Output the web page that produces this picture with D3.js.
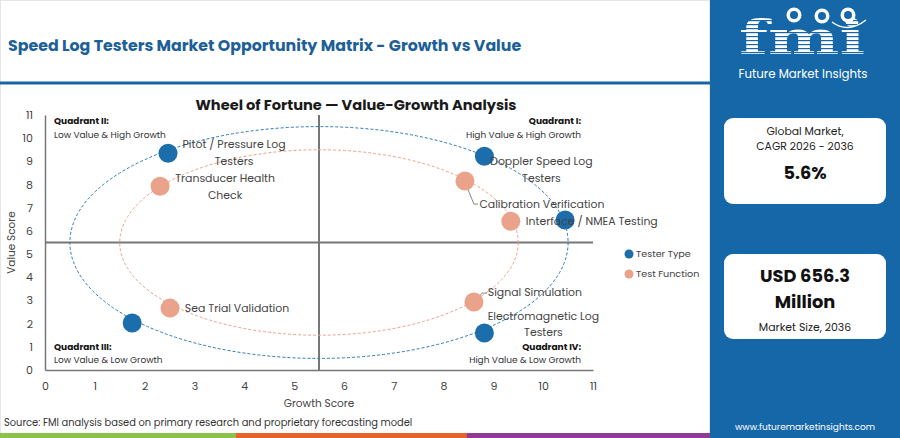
<!DOCTYPE html>
<html>
<head>
<meta charset="utf-8">
<script src="https://cdn.jsdelivr.net/npm/d3@7/dist/d3.min.js"></script>
<style>
  html, body { margin: 0; padding: 0; background: #fff; }
  svg { display: block; font-family: Poppins, "Open Sans", "Noto Sans", sans-serif; }
</style>
</head>
<body>
<svg id="chart" width="900" height="438"></svg>
<script>
// ---------- data ----------
const seriesNames = ["Tester Type", "Test Function"];
const testerNames = ["Pitot / Pressure Log Testers", "Doppler Speed Log Testers", "", "Electromagnetic Log Testers", ""];
const testerGrowth = [2.47, 8.82, 10.44, 8.82, 1.75];
const testerValue  = [9.35, 9.22, 6.47, 1.60, 2.03];
const functionNames = ["Transducer Health Check", "Calibration Verification", "Interface / NMEA Testing", "Signal Simulation", "Sea Trial Validation"];
const functionGrowth = [2.31, 8.43, 9.35, 8.61, 2.51];
const functionValue  = [7.93, 8.15, 6.42, 2.93, 2.67];
const xTicks = [0,1,2,3,4,5,6,7,8,9,10,11];
const yTicks = [0,1,2,3,4,5,6,7,8,9,10,11];
const midpoint = 5.5;
const ringRadius = [5, 4];       // in score units
const cagrLabel = "5.6%";
const marketSizeLabel = ["USD 656.3", "Million"];

// ---------- layout (label offsets in px, line splits) ----------
const labelLayout = {
  "Pitot / Pressure Log Testers": {dx: 66, dy: -8, lines: ["Pitot / Pressure Log", "Testers"]},
  "Transducer Health Check": {dx: 65, dy: -7, lines: ["Transducer Health", "Check"]},
  "Doppler Speed Log Testers": {dx: 57, dy: 6, lines: ["Doppler Speed Log", "Testers"]},
  "Calibration Verification": {dx: 77, dy: 24, lines: ["Calibration Verification"], leader: [[2,6],[9,23],[13,23]]},
  "Interface / NMEA Testing": {dx: 81, dy: 1, lines: ["Interface / NMEA Testing"]},
  "Signal Simulation": {dx: 61, dy: -9, lines: ["Signal Simulation"], leader: [[5,-5],[8,-9],[13,-9]]},
  "Electromagnetic Log Testers": {dx: 59, dy: -16, lines: ["Electromagnetic Log", "Testers"]},
  "Sea Trial Validation": {dx: 67, dy: 1, lines: ["Sea Trial Validation"]}
};
const colors = {"Tester Type": "#1b6dab", "Test Function": "#eba28b"};
const ringColors = ["#2b7bb9", "#eba28b"];

const svg = d3.select("#chart");

// background & header
svg.append("rect").attr("x", 0).attr("y", 0).attr("width", 710).attr("height", 438).attr("fill", "#fff");
svg.append("rect").attr("x", 0.5).attr("y", 0.5).attr("width", 709).attr("height", 437).attr("fill", "none").attr("stroke", "#e6e6e6");
svg.append("text").attr("x", 8).attr("y", 51).attr("font-size", 15.8).attr("font-weight", 700)
  .attr("fill", "#1d5f97").text("Speed Log Testers Market Opportunity Matrix - Growth vs Value");
svg.append("rect").attr("x", 0).attr("y", 81.5).attr("width", 710).attr("height", 3).attr("fill", "#1a64a3");

// scales
const x = d3.scaleLinear().domain([0, 11]).range([45, 593]);
const y = d3.scaleLinear().domain([0, 11]).range([370, 115]);

svg.append("text").attr("x", 356).attr("y", 110).attr("text-anchor", "middle")
  .attr("font-size", 14.6).attr("font-weight", 700).attr("fill", "#1a1a1a")
  .text("Wheel of Fortune \u2014 Value-Growth Analysis");

// axes
const xAxis = svg.append("g").attr("transform", `translate(0,${y(0)})`)
  .call(d3.axisBottom(x).tickValues(xTicks).tickSize(0).tickPadding(12).tickFormat(d3.format("d")));
const yAxis = svg.append("g").attr("transform", `translate(${x(0)},0)`)
  .call(d3.axisLeft(y).tickValues(yTicks).tickSize(0).tickPadding(12).tickFormat(d3.format("d")));
[xAxis, yAxis].forEach(a => {
  a.select(".domain").attr("stroke", "#777").attr("stroke-width", 1.5);
  a.selectAll("text").attr("font-size", 11).attr("fill", "#444").attr("font-family", "Poppins, 'Open Sans', sans-serif");
});

// quadrant lines
svg.append("line").attr("x1", x(midpoint)).attr("x2", x(midpoint)).attr("y1", y(11)).attr("y2", y(0))
  .attr("stroke", "#777").attr("stroke-width", 2);
svg.append("line").attr("x1", x(0)).attr("x2", x(11)).attr("y1", y(midpoint)).attr("y2", y(midpoint))
  .attr("stroke", "#777").attr("stroke-width", 2);

// axis titles
svg.append("text").attr("x", x(5.5)).attr("y", 407).attr("text-anchor", "middle")
  .attr("font-size", 10.5).attr("fill", "#444").text("Growth Score");
svg.append("text").attr("transform", `translate(15,${y(5.5)}) rotate(-90)`).attr("text-anchor", "middle")
  .attr("font-size", 10.5).attr("fill", "#444").text("Value Score");

// quadrant labels
const quads = [
  {t: "Quadrant II:", s: "Low Value & High Growth", xx: 54, yy: 124, anchor: "start"},
  {t: "Quadrant I:", s: "High Value & High Growth", xx: 581, yy: 124, anchor: "end"},
  {t: "Quadrant III:", s: "Low Value & Low Growth", xx: 54, yy: 349.5, anchor: "start"},
  {t: "Quadrant IV:", s: "High Value & Low Growth", xx: 581, yy: 349.5, anchor: "end"}
];
quads.forEach(q => {
  svg.append("text").attr("x", q.xx).attr("y", q.yy).attr("text-anchor", q.anchor)
    .attr("font-size", 9).attr("font-weight", 700).attr("fill", "#111").text(q.t);
  svg.append("text").attr("x", q.xx).attr("y", q.yy + 13.5).attr("text-anchor", q.anchor)
    .attr("font-size", 9).attr("fill", "#333").text(q.s);
});

// rings
ringRadius.forEach((r, i) => {
  svg.append("ellipse").attr("cx", x(midpoint)).attr("cy", y(midpoint))
    .attr("rx", x(r) - x(0)).attr("ry", y(0) - y(r))
    .attr("fill", "none").attr("stroke", ringColors[i]).attr("stroke-width", 1)
    .attr("stroke-dasharray", "3,2");
});

// points
const points = [];
testerNames.forEach((n, i) => points.push({name: n, g: testerGrowth[i], v: testerValue[i], s: "Tester Type"}));
functionNames.forEach((n, i) => points.push({name: n, g: functionGrowth[i], v: functionValue[i], s: "Test Function"}));

// leader lines
points.forEach(p => {
  const L = labelLayout[p.name];
  if (!L || !L.leader) return;
  const px = x(p.g), py = y(p.v);
  const line = d3.line()(L.leader.map(o => [px + o[0], py + o[1]]));
  svg.append("path").attr("d", line).attr("fill", "none").attr("stroke", "#888").attr("stroke-width", 1);
});

svg.append("g").selectAll("circle").data(points).join("circle")
  .attr("cx", d => x(d.g)).attr("cy", d => y(d.v)).attr("r", 9.5)
  .attr("fill", d => colors[d.s]);

// labels
points.forEach(p => {
  const L = labelLayout[p.name];
  if (!L) return;
  const t = svg.append("text").attr("text-anchor", "middle").attr("font-size", 10.9)
    .attr("fill", "#444").attr("dominant-baseline", "middle");
  L.lines.forEach((ln, k) => {
    t.append("tspan").attr("x", x(p.g) + L.dx).attr("y", y(p.v) + L.dy + k * 16.5).text(ln);
  });
});

// legend
seriesNames.forEach((s, i) => {
  const ly = 254 + i * 20;
  svg.append("circle").attr("cx", 629).attr("cy", ly).attr("r", 4.5).attr("fill", colors[s]);
  svg.append("text").attr("x", 636).attr("y", ly).attr("dominant-baseline", "middle")
    .attr("font-size", 9.6).attr("fill", "#444").text(s);
});

// source & bottom bar
svg.append("text").attr("x", 4).attr("y", 426).attr("font-size", 9.9).attr("fill", "#333")
  .text("Source: FMI analysis based on primary research and proprietary forecasting model");
svg.append("rect").attr("x", 0).attr("y", 433).attr("width", 236).attr("height", 5).attr("fill", "#8bc34a");
svg.append("rect").attr("x", 236).attr("y", 433).attr("width", 231).attr("height", 5).attr("fill", "#e8622c");
svg.append("rect").attr("x", 467).attr("y", 433).attr("width", 243).attr("height", 5).attr("fill", "#8e3a97");

// right panel
const P = svg.append("g");
P.append("rect").attr("x", 710).attr("y", 0).attr("width", 190).attr("height", 438).attr("fill", "#1667a8");
// logo
P.append("text").attr("x", 802).attr("y", 54).attr("text-anchor", "middle")
  .attr("font-family", "'DejaVu Serif', serif").attr("font-weight", 700).attr("font-size", 46)
  .attr("textLength", 126).attr("lengthAdjust", "spacingAndGlyphs").attr("fill", "#fff").text("fmi");
for (let sy = 20; sy < 58; sy += 4) {
  P.append("rect").attr("x", 736).attr("y", sy).attr("width", 134).attr("height", 1.2).attr("fill", "#1667a8");
}
[[794, 15], [822, 16], [848, 15]].forEach(c => {
  P.append("circle").attr("cx", c[0]).attr("cy", c[1]).attr("r", 7.5).attr("fill", "#fff");
  P.append("circle").attr("cx", c[0]).attr("cy", c[1]).attr("r", 4).attr("fill", "#1667a8");
});
P.append("path").attr("d", "M832,22 Q848,34 866,20").attr("fill", "none").attr("stroke", "#fff").attr("stroke-width", 1.5);
P.append("text").attr("x", 803).attr("y", 78).attr("text-anchor", "middle").attr("font-size", 11.8)
  .attr("fill", "#fff").text("Future Market Insights");

// box 1
P.append("rect").attr("x", 724).attr("y", 118).attr("width", 162).attr("height", 86).attr("rx", 9).attr("fill", "#fff");
P.append("text").attr("x", 805).attr("y", 135).attr("text-anchor", "middle").attr("font-size", 10.8).attr("fill", "#222").text("Global Market,");
P.append("text").attr("x", 805).attr("y", 150).attr("text-anchor", "middle").attr("font-size", 10.8).attr("fill", "#222").text("CAGR 2026 - 2036");
P.append("text").attr("x", 805).attr("y", 179).attr("text-anchor", "middle").attr("font-size", 17.7).attr("font-weight", 700).attr("fill", "#111").text(cagrLabel);

// box 2
P.append("rect").attr("x", 724).attr("y", 254).attr("width", 162).attr("height", 85).attr("rx", 9).attr("fill", "#fff");
P.append("text").attr("x", 805).attr("y", 282).attr("text-anchor", "middle").attr("font-size", 17.8).attr("font-weight", 700).attr("fill", "#111").text(marketSizeLabel[0]);
P.append("text").attr("x", 805).attr("y", 308).attr("text-anchor", "middle").attr("font-size", 17.8).attr("font-weight", 700).attr("fill", "#111").text(marketSizeLabel[1]);
P.append("text").attr("x", 805).attr("y", 331).attr("text-anchor", "middle").attr("font-size", 10.9).attr("fill", "#222").text("Market Size, 2036");

P.append("text").attr("x", 805).attr("y", 430).attr("text-anchor", "middle").attr("font-size", 9).attr("fill", "#fff").text("www.futuremarketinsights.com");
</script>
</body>
</html>
